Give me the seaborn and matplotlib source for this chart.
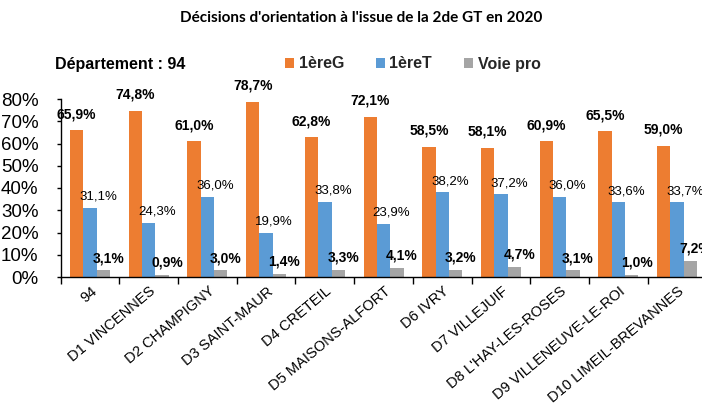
import matplotlib
matplotlib.use("Agg")
import matplotlib.pyplot as plt
import matplotlib.transforms as mtrans
from matplotlib.ticker import FuncFormatter, FixedLocator
import seaborn as sns
import pandas as pd
import numpy as np

zones = ["94", "D1 VINCENNES", "D2 CHAMPIGNY", "D3 SAINT-MAUR", "D4 CRETEIL",
         "D5 MAISONS-ALFORT", "D6 IVRY", "D7 VILLEJUIF", "D8 L'HAY-LES-ROSES",
         "D9 VILLENEUVE-LE-ROI", "D10 LIMEIL-BREVANNES"]
series = ["1èreG", "1èreT", "Voie pro"]
premiere_g = [65.9, 74.8, 61.0, 78.7, 62.8, 72.1, 58.5, 58.1, 60.9, 65.5, 59.0]
premiere_t = [31.1, 24.3, 36.0, 19.9, 33.8, 23.9, 38.2, 37.2, 36.0, 33.6, 33.7]
voie_pro = [3.1, 0.9, 3.0, 1.4, 3.3, 4.1, 3.2, 4.7, 3.1, 1.0, 7.2]
colors = ["#ED7D31", "#5B9BD5", "#A5A5A5"]
title = "Décisions d'orientation à l'issue de la 2de GT en 2020"
dept_text = "Département : 94"

values = [premiere_g, premiere_t, voie_pro]
df = pd.DataFrame({
    "zone": [z for s in series for z in zones],
    "serie": [s for s in series for _ in zones],
    "pct": [v for vals in values for v in vals],
})

sns.set_theme(style="white")
plt.rcParams["font.family"] = ["Liberation Sans", "DejaVu Sans"]

W, H = 702, 407
fig = plt.figure(figsize=(W / 100, H / 100), dpi=100)
ax = fig.add_axes([60.7 / W, 130 / H, (706.4 - 60.7) / W, 178 / H])

sns.barplot(data=df, x="zone", y="pct", hue="serie", palette=colors,
            width=0.68, saturation=1, ax=ax, errorbar=None, linewidth=0)

ax.set_ylim(0, 80)
ax.set_xlim(-0.5, len(zones) - 0.5)
ax.set_xlabel("")
ax.set_ylabel("")
ax.yaxis.set_major_locator(FixedLocator(np.arange(0, 81, 10)))
ax.yaxis.set_major_formatter(FuncFormatter(lambda v, p: f"{v:.0f}%"))

for side in ["top", "right"]:
    ax.spines[side].set_visible(False)
for side in ["left", "bottom"]:
    ax.spines[side].set_color("black")
    ax.spines[side].set_linewidth(1.0)

ax.tick_params(axis="y", which="major", left=True, length=3, width=1,
               color="black", labelsize=13.5, pad=13, labelcolor="black")
ax.xaxis.set_minor_locator(FixedLocator(np.arange(-0.5, len(zones), 1.0)))
ax.tick_params(axis="x", which="minor", bottom=True, length=5, width=1, color="black")
ax.tick_params(axis="x", which="major", bottom=False, length=0, pad=9,
               labelsize=10.5, labelcolor="black")
offset = mtrans.ScaledTranslation(5 / 100, 0, fig.dpi_scale_trans)
for lab in ax.get_xticklabels():
    lab.set_rotation(40)
    lab.set_ha("right")
    lab.set_va("center")
    lab.set_rotation_mode("anchor")
    lab.set_transform(lab.get_transform() + offset)

label_style = [
    dict(size=10, weight="bold", dx=0, dy=12),
    dict(size=9.5, weight="normal", dx=8, dy=8),
    dict(size=10, weight="bold", dx=5, dy=8),
]
for cont, st in zip(ax.containers, label_style):
    for bar in cont:
        h = bar.get_height()
        xc = bar.get_x() + bar.get_width() / 2
        ax.annotate(f"{h:.1f}".replace(".", ",") + "%", (xc, h),
                    xytext=(st["dx"], st["dy"]), textcoords="offset pixels",
                    ha="center", va="baseline", fontsize=st["size"],
                    fontweight=st["weight"], color="black", annotation_clip=False)

handles, labels = ax.get_legend_handles_labels()
ax.legend(handles, labels, ncol=3, loc="center left",
          bbox_to_anchor=(285 / W, 1 - 64 / H), bbox_transform=fig.transFigure,
          frameon=False, borderpad=0, borderaxespad=0, handlelength=0.55,
          handleheight=0.55, handletextpad=0.3, columnspacing=2.0,
          prop={"family": "Liberation Sans", "weight": "bold", "size": 11.5})

fig.text(55 / W, 1 - 64 / H, dept_text, ha="left", va="center",
         fontsize=11.5, fontweight="bold", color="black")
fig.text(361.5 / W, 1 - 18 / H, title, ha="center", va="center",
         fontsize=11, fontweight="bold", family=["Lato", "DejaVu Sans"], color="black")

fig.savefig("out.png", dpi=100, facecolor="white")
